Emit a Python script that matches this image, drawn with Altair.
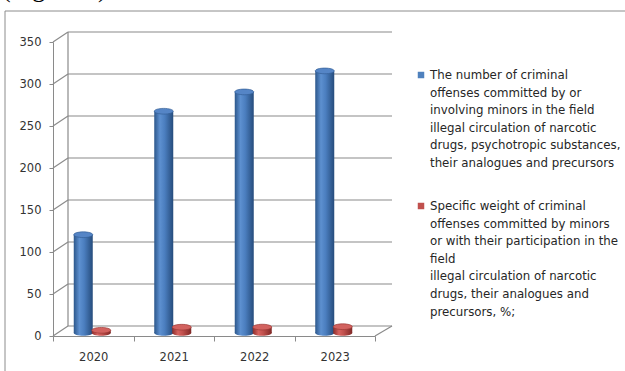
import altair as alt
import pandas as pd

# ---------------- data ----------------
years = ["2020", "2021", "2022", "2023"]
offenses = [117, 264, 287, 312]
share_pct = [3.2, 6.9, 7.0, 7.5]
y_ticks = [0, 50, 100, 150, 200, 250, 300, 350]
legend_blue = [
    "The number of criminal",
    "offenses committed by or",
    "involving minors in the field",
    "illegal circulation of narcotic",
    "drugs, psychotropic substances,",
    "their analogues and precursors",
]
legend_red = [
    "Specific weight of criminal",
    "offenses committed by minors",
    "or with their participation in the",
    "field",
    "illegal circulation of narcotic",
    "drugs, their analogues and",
    "precursors, %;",
]
figure_caption = "(Figure 1)"

# ---------------- layout / style ----------------
W, H = 322, 294
DX, DY = 15, -10
GRID = "#8a8a8a"
FONT = "DejaVu Sans"
ELLIPSE = "M-1,0A1,0.3,0,1,0,1,0A1,0.3,0,1,0,-1,0Z"

df = pd.DataFrame({"year": years, "offenses": offenses, "share": share_pct})
ticks_df = pd.DataFrame({"v": y_ticks})
one = pd.DataFrame({"k": [0]})

yscale = alt.Scale(domain=[0, 350], nice=False, zero=True)
xscale = alt.Scale(paddingInner=0, paddingOuter=0)

xaxis = alt.Axis(title=None, labelAngle=0, tickBand="extent", tickSize=5,
                 labelPadding=10, domainColor=GRID, tickColor=GRID,
                 labelFont=FONT, labelFontSize=11.5, labelColor="#333333")
yaxis = alt.Axis(title=None, values=y_ticks, grid=False, tickSize=4,
                 labelPadding=8, domainColor=GRID, tickColor=GRID,
                 labelFont=FONT, labelFontSize=11.5, labelColor="#333333")

# frame and caption
frame_left = alt.Chart(one).mark_rule(color="#8c8c8c", strokeWidth=1).encode(
    x=alt.value(-48), y=alt.value(-31), y2=alt.value(H + 40))
frame_top = alt.Chart(one).mark_rule(color="#8c8c8c", strokeWidth=1).encode(
    x=alt.value(-48), x2=alt.value(W + 260), y=alt.value(-31))
caption = alt.Chart(one).mark_text(
    text=figure_caption, font="Liberation Serif", fontSize=26, align="left",
    baseline="alphabetic", color="#000000").encode(x=alt.value(-51), y=alt.value(-45.5))

# 3D walls
grid_back = alt.Chart(ticks_df).mark_rule(color=GRID, strokeWidth=1.2, yOffset=DY).encode(
    y=alt.Y("v:Q", scale=yscale, axis=yaxis), x=alt.value(DX), x2=alt.value(W + DX + 2))
grid_diag = alt.Chart(ticks_df).mark_rule(color=GRID, strokeWidth=1.2, y2Offset=DY).encode(
    y=alt.Y("v:Q", scale=yscale, axis=yaxis), y2="v:Q", x=alt.value(0), x2=alt.value(DX))
back_wall = alt.Chart(one).mark_rule(color=GRID, strokeWidth=1.2, yOffset=DY, y2Offset=DY).encode(
    x=alt.value(DX), y=alt.datum(0), y2=alt.datum(350))
floor_diag = alt.Chart(one).mark_rule(color=GRID, strokeWidth=1.2, y2Offset=DY).encode(
    x=alt.value(W), x2=alt.value(W + DX + 2), y=alt.datum(0), y2=alt.datum(0))


def grad(stops):
    return alt.LinearGradient(
        gradient="linear", x1=0, x2=1, y1=0, y2=0,
        stops=[alt.GradientStop(color=c, offset=o) for o, c in stops])


def cylinder(field, offset, side, top_fill, top_stroke):
    base = alt.Chart(df).encode(
        x=alt.X("year:N", scale=xscale, axis=xaxis))
    bottom = base.mark_point(shape=ELLIPSE, size=361, filled=True, fill=side,
                             strokeWidth=0, opacity=1, xOffset=offset, yOffset=-3).encode(
        y=alt.datum(0))
    body = base.mark_bar(width=19, fill=side, xOffset=offset, yOffset=-3, y2Offset=-3).encode(
        y=alt.Y(f"{field}:Q", scale=yscale, axis=yaxis))
    top = base.mark_point(shape=ELLIPSE, size=361, filled=True, fill=top_fill,
                          stroke=top_stroke, strokeWidth=0.7, opacity=1,
                          xOffset=offset, yOffset=-3).encode(
        y=alt.Y(f"{field}:Q", scale=yscale, axis=yaxis))
    return [bottom, body, top]


blue_side = grad([(0, "#2c578b"), (0.3, "#5d90d0"), (0.55, "#4b7ebf"), (1, "#264c7c")])
red_side = grad([(0, "#8a2d2b"), (0.3, "#d6625e"), (0.55, "#c0504d"), (1, "#7f2826")])

blue = cylinder("offenses", -10, blue_side, "#5585c6", "#345f96")
red = cylinder("share", 8, red_side, "#d2625f", "#9c3936")

# legend
leg_sq_b = alt.Chart(one).mark_square(size=42, color="#4f81bd", opacity=1).encode(
    x=alt.value(368), y=alt.value(33))
leg_sq_r = alt.Chart(one).mark_square(size=42, color="#c0504d", opacity=1).encode(
    x=alt.value(368), y=alt.value(164))
leg_tx_b = alt.Chart(one).mark_text(text=legend_blue, font=FONT, fontSize=11.8, lineHeight=17.6,
                                    align="left", baseline="top", color="#262626").encode(
    x=alt.value(377), y=alt.value(28))
leg_tx_r = alt.Chart(one).mark_text(text=legend_red, font=FONT, fontSize=11.8, lineHeight=17.6,
                                    align="left", baseline="top", color="#262626").encode(
    x=alt.value(377), y=alt.value(159))

chart = alt.layer(
    frame_left, frame_top, caption,
    grid_back, grid_diag, back_wall, floor_diag,
    *blue, *red,
    leg_sq_b, leg_sq_r, leg_tx_b, leg_tx_r,
).properties(
    width=W, height=H,
    autosize=alt.AutoSizeParams(type="none"),
    padding={"left": 53, "top": 42, "right": 250, "bottom": 35},
    background="white",
).configure_view(stroke=None)

chart.save("out.html", embed_options={"renderer": "svg", "actions": False})
